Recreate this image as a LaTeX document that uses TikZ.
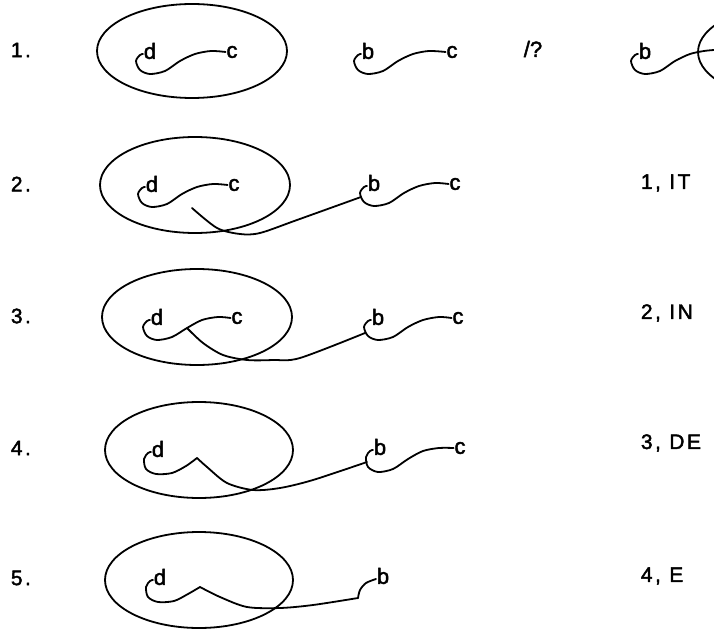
\documentclass[tikz,border=0pt]{standalone}
\usepackage{fontspec}
\setmainfont{Liberation Sans}
\newfontfamily\lblfont[LetterSpace=12,FakeBold=2]{Liberation Sans}
\newfontfamily\letfont[FakeBold=2]{Liberation Sans}
\usetikzlibrary{positioning,calc}

\begin{document}
\begin{tikzpicture}[x=1pt,y=-1pt,line width=1.8pt,line cap=round,line join=round,
  let/.style={inner sep=0pt,font=\letfont\fontsize{22}{24}\selectfont},
  num/.style={anchor=west,inner sep=0pt,font=\lblfont\fontsize{21}{23}\selectfont},
  tag/.style={anchor=west,inner sep=0pt,font=\lblfont\fontsize{21}{23}\selectfont},
  loop/.style={x radius=95,y radius=47}]
\useasboundingbox (0,0) rectangle (714,631);
% row numbers and results
\node[num] (n1) at (10,50) {1.};
\node[num] (n2) at (10,184) {2.};
\node[num] (n3) at (10,316) {3.};
\node[num] (n4) at (10,448) {4.};
\node[num] (n5) at (10,578) {5.};
\node[tag] (r1) at (640,183) {1, IT};
\node[tag] (r2) at (640,313) {2, IN};
\node[tag] (r3) at (640,443) {3, DE};
\node[tag] (r4) at (640,576) {4, E};
% row 1
\draw (192,51) ellipse[loop];
\node[let] (d1) at (150,51) {d};
\node[let] (cin1) at (232,52) {c};
\draw plot[smooth] coordinates {([yshift=-3pt]d1.west) (140,55) (136,61) (140,70) (150,74) (165,71) (180,61) (195,54) (211,51) (cin1.west)};
\node[let] (b1) at (368,51) {b};
\node[let] (cout1) at (452,52) {c};
\draw plot[smooth] coordinates {([yshift=-3pt]b1.west) (358,55) (354,61) (358,70) (368,74) (383,71) (398,61) (413,54) (429,51) (cout1.west)};
\node[let] (q1) at (533,49) {/?};
\node[let] (bx1) at (645,51) {b};
\coordinate (ex1) at (714,50);
\draw plot[smooth] coordinates {([yshift=-3pt]bx1.west) (635,55) (631,61) (635,70) (645,74) (660,71) (675,61) (690,54) (704,51) (ex1)};
\begin{scope}
\clip (0,0) rectangle (714,631);
\draw (793,52) ellipse[loop];
\end{scope}
% row 2
\draw (195,185) ellipse[x radius=95,y radius=48];
\node[let] (d2) at (152,184) {d};
\node[let] (cin2) at (234,185) {c};
\draw plot[smooth] coordinates {([yshift=-3pt]d2.west) (142,188) (138,194) (142,203) (152,207) (167,204) (182,194) (197,187) (213,184) (cin2.west)};
\node[let] (b2) at (374,183) {b};
\node[let] (cout2) at (455,184) {c};
\draw plot[smooth] coordinates {([yshift=-3pt]b2.west) (364,187) (360,193) (364,202) (374,206) (389,203) (404,193) (419,186) (435,183) (cout2.west)};
\coordinate (s2) at (192,208);
\coordinate (h2) at (361,197);
\draw plot[smooth] coordinates {(s2) (217,228) (240,234) (260,233) (297,220) (h2)};
% row 3
\draw (197,317) ellipse[x radius=95,y radius=48];
\node[let] (d3) at (157,317) {d};
\node[let] (cin3) at (237,318) {c};
\draw plot[smooth] coordinates {([yshift=-3pt]d3.west) (147,321) (143,327) (147,336) (157,340) (172,337) (187,328) (202,320) (218,317) (cin3.west)};
\node[let] (b3) at (378,317) {b};
\node[let] (cout3) at (458,318) {c};
\draw plot[smooth] coordinates {([yshift=-3pt]b3.west) (368,321) (364,327) (368,336) (378,340) (393,337) (408,327) (423,320) (439,317) (cout3.west)};
\coordinate (s3) at (187,328);
\coordinate (h3) at (365,333);
\draw plot[smooth] coordinates {(s3) (203,343) (223,355) (247,360) (273,360) (300,358) (h3)};
% row 4
\draw (199,450) ellipse[x radius=94,y radius=48];
\node[let] (d4) at (158,449) {d};
\coordinate (p4) at (197,458);
\coordinate (h4) at (367,462);
\draw plot[smooth] coordinates {([yshift=-3pt]d4.west) (148,453) (144,459) (146,469) (156,474) (172,473) (186,466) (p4)};
\draw plot[smooth] coordinates {(p4) (207,467) (227,483) (253,490) (280,488) (313,480) (h4)};
\node[let] (b4) at (380,447) {b};
\node[let] (cout4) at (460,448) {c};
\draw plot[smooth] coordinates {([yshift=-3pt]b4.west) (370,451) (366,457) (368,467) (378,472) (393,469) (408,459) (423,451) (439,448) (cout4.west)};
% row 5
\draw (199,580) ellipse[x radius=94,y radius=48];
\node[let] (d5) at (160,577) {d};
\node[let] (b5) at (383,576) {b};
\coordinate (p5) at (200,587);
\coordinate (k5) at (358,598);
\draw plot[smooth] coordinates {([yshift=-3pt]d5.west) (150,581) (146,587) (148,597) (158,602) (174,601) (188,594) (p5)};
\draw plot[smooth] coordinates {(p5) (220,597) (247,607) (280,608) (313,605) (k5)};
\draw plot[smooth] coordinates {(k5) (360,590) (366,583) ([yshift=-3pt]b5.west)};
\end{tikzpicture}
\end{document}
